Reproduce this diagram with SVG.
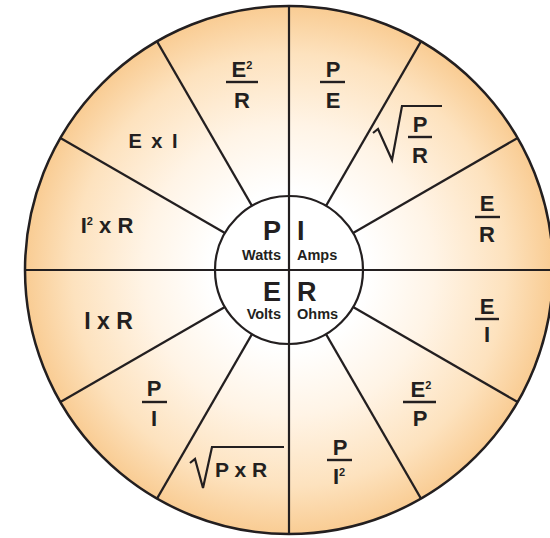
<svg xmlns="http://www.w3.org/2000/svg" width="550" height="538" viewBox="0 0 550 538">
<defs>
<radialGradient id="wheel" gradientUnits="userSpaceOnUse" cx="289" cy="270" r="264">
<stop offset="0.3" stop-color="#ffffff"/>
<stop offset="0.55" stop-color="#fff4e6"/>
<stop offset="0.82" stop-color="#fde2be"/>
<stop offset="1" stop-color="#f9cc93"/>
</radialGradient>
<style>
.ln{stroke:#231f20;stroke-width:2.2;fill:none;stroke-linecap:butt}
.outer{stroke:#231f20;stroke-width:2.5;fill:url(#wheel)}
.hubc{stroke:#231f20;stroke-width:2.2;fill:#ffffff}
.bar{stroke:#231f20;stroke-width:2.4}
.t{font-family:"Liberation Sans",Arial,sans-serif;font-weight:bold;fill:#231f20}
.f{font-size:22px;text-anchor:middle}
.big{font-size:27px}
.small{font-size:14.5px}
.sup{font-size:11px}
</style>
</defs>
<rect width="550" height="538" fill="#ffffff"/>
<g id="wheel-shape">
<circle cx="289" cy="270" r="264" class="outer"/>
</g>
<g id="dividers">
<line class="ln" x1="289" y1="6" x2="289" y2="534"/>
<line class="ln" x1="25" y1="270" x2="553" y2="270"/>
<line class="ln" x1="353.1" y1="233" x2="517.6" y2="138"/>
<line class="ln" x1="326" y1="205.9" x2="421" y2="41.4"/>
<line class="ln" x1="252" y1="205.9" x2="157" y2="41.4"/>
<line class="ln" x1="224.9" y1="233" x2="60.4" y2="138"/>
<line class="ln" x1="224.9" y1="307" x2="60.4" y2="402"/>
<line class="ln" x1="252" y1="334.1" x2="157" y2="498.6"/>
<line class="ln" x1="326" y1="334.1" x2="421" y2="498.6"/>
<line class="ln" x1="353.1" y1="307" x2="517.6" y2="402"/>
</g>
<g id="hub">
<circle cx="289" cy="270" r="74" class="hubc"/>
<line class="ln" x1="289" y1="196" x2="289" y2="344"/>
<line class="ln" x1="215" y1="270" x2="363" y2="270"/>
</g>
<g id="node-P">
<text class="t big" x="281" y="240" text-anchor="end">P</text>
<text class="t small" x="281" y="260" text-anchor="end">Watts</text>
</g>
<g id="node-I">
<text class="t big" x="297" y="240">I</text>
<text class="t small" x="297" y="260">Amps</text>
</g>
<g id="node-E">
<text class="t big" x="281" y="301" text-anchor="end">E</text>
<text class="t small" x="281" y="319" text-anchor="end">Volts</text>
</g>
<g id="node-R">
<text class="t big" x="297" y="301">R</text>
<text class="t small" x="297" y="319">Ohms</text>
</g>
<g id="seg-E2-over-R">
<text class="t f" x="242" y="77">E<tspan class="sup" dy="-8">2</tspan></text>
<line class="bar" x1="226" y1="82" x2="258" y2="82"/>
<text class="t f" x="242" y="108">R</text>
</g>
<g id="seg-ExI">
<text class="t" x="154" y="148" font-size="20" text-anchor="middle" letter-spacing="2">E x I</text>
</g>
<g id="seg-I2xR">
<text class="t" x="107" y="233" font-size="22" text-anchor="middle">I<tspan class="sup" dy="-8">2</tspan><tspan dy="8"> x R</tspan></text>
</g>
<g id="seg-IxR">
<text class="t" x="108.5" y="329" font-size="23" text-anchor="middle">I x R</text>
</g>
<g id="seg-P-over-I">
<text class="t f" x="154" y="396">P</text>
<line class="bar" x1="142" y1="402" x2="167" y2="402"/>
<text class="t f" x="154" y="426">I</text>
</g>
<g id="seg-sqrt-PxR">
<polyline class="ln" points="190,463 195,459 203,488 212,447 284,447" stroke-linejoin="miter"/>
<text class="t" x="215" y="477" font-size="21">P x R</text>
</g>
<g id="seg-P-over-I2">
<text class="t f" x="340" y="455">P</text>
<line class="bar" x1="327" y1="460" x2="352" y2="460"/>
<text class="t f" x="339" y="484">I<tspan class="sup" dy="-8">2</tspan></text>
</g>
<g id="seg-E2-over-P">
<text class="t f" x="421" y="397">E<tspan class="sup" dy="-8">2</tspan></text>
<line class="bar" x1="403" y1="402" x2="436" y2="402"/>
<text class="t f" x="420" y="426">P</text>
</g>
<g id="seg-E-over-I">
<text class="t f" x="487" y="314">E</text>
<line class="bar" x1="475" y1="319" x2="499" y2="319"/>
<text class="t f" x="487" y="342">I</text>
</g>
<g id="seg-E-over-R">
<text class="t f" x="487" y="211">E</text>
<line class="bar" x1="475" y1="217" x2="500" y2="217"/>
<text class="t f" x="487" y="242">R</text>
</g>
<g id="seg-sqrt-P-over-R">
<polyline class="ln" points="373,133 378,129 392,160 402,106 442,106" stroke-linejoin="miter"/>
<text class="t f" x="420" y="132">P</text>
<line class="bar" x1="408" y1="137" x2="432" y2="137"/>
<text class="t f" x="420" y="163">R</text>
</g>
<g id="seg-P-over-E">
<text class="t f" x="333" y="77">P</text>
<line class="bar" x1="320" y1="82" x2="345" y2="82"/>
<text class="t f" x="333" y="108">E</text>
</g>
</svg>
